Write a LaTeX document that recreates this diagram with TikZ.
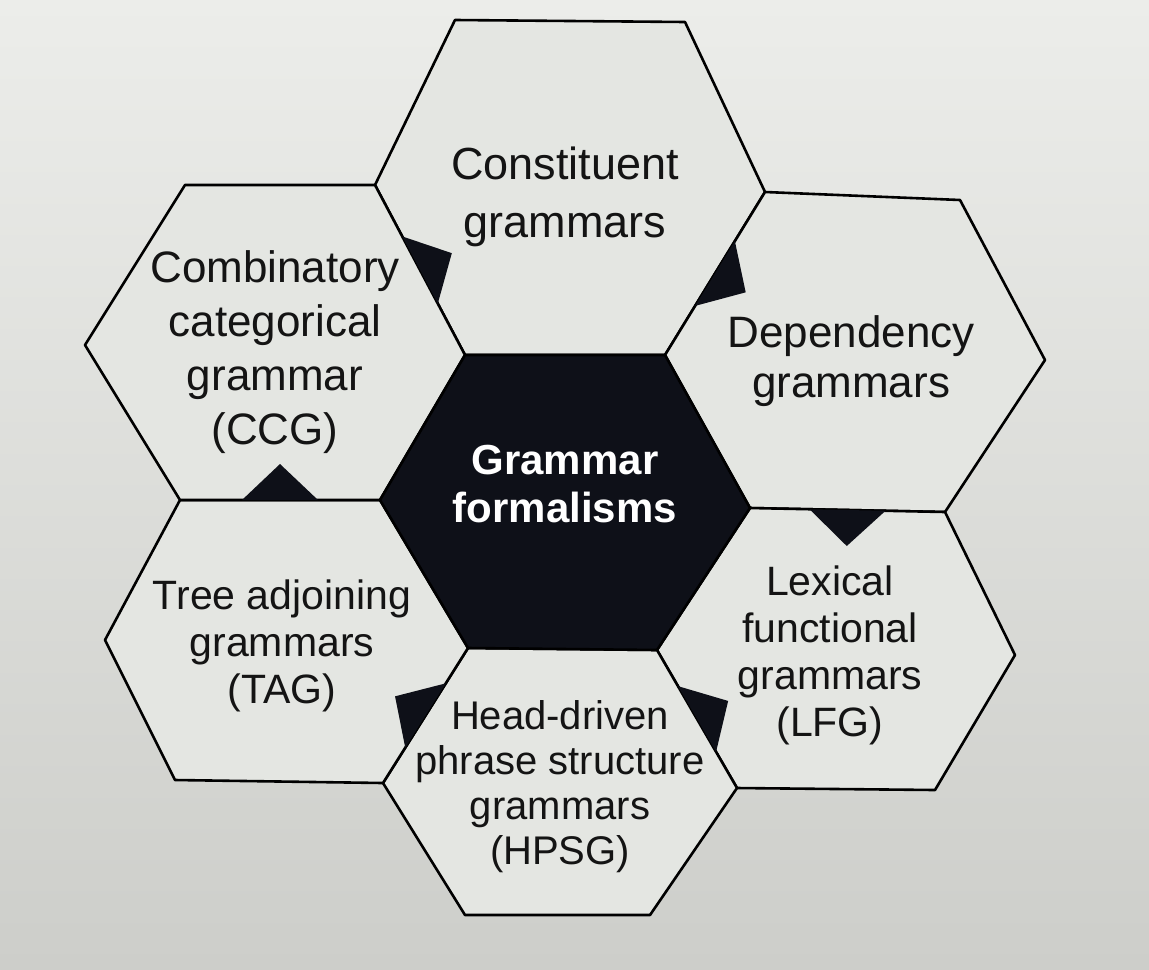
\documentclass[tikz,border=0pt]{standalone}
\usepackage{fontspec}
\setmainfont{Liberation Sans}
\usepackage{xcolor}
\definecolor{screentop}{HTML}{ECEDEA}
\definecolor{screenlow}{HTML}{CDCECA}
\definecolor{cellfill}{HTML}{E4E6E2}
\definecolor{hubfill}{HTML}{0E1018}
\usepackage{tikz}
\usetikzlibrary{calc,backgrounds}
\tikzset{
  cell/.style    = {draw=black, line width=1.3pt, fill=cellfill, line join=round},
  hub/.style     = {draw=black, line width=1.3pt, fill=hubfill, line join=round},
  celltext/.style= {align=center, text=black!92, font=\fontsize{20.5}{23.5}\selectfont},
  hubtext/.style = {align=center, text=white, font=\fontsize{21}{24}\selectfont\bfseries},
  tab/.style     = {fill=hubfill}
}

\begin{document}
\begin{tikzpicture}[x=0.5pt, y=-0.5pt]
  % screen
  \useasboundingbox (0,0) rectangle (1149,969);
  \shade[top color=screentop, bottom color=screenlow] (0,0) rectangle (1149,969);

  % honeycomb vertices
  \coordinate (cl)  at (380,500);
  \coordinate (ctl) at (465,355);
  \coordinate (ctr) at (665,355);
  \coordinate (cr)  at (750,508);
  \coordinate (cbr) at (657,650);
  \coordinate (cbl) at (468,648);
  \coordinate (ktl) at (455,20);
  \coordinate (ktr) at (685,22);
  \coordinate (kcl) at (375,185);
  \coordinate (kcr) at (765,192);
  \coordinate (dtr) at (960,200);
  \coordinate (dr)  at (1045,360);
  \coordinate (dbr) at (945,512);
  \coordinate (lr)  at (1015,655);
  \coordinate (lbr) at (935,790);
  \coordinate (lbl) at (737,788);
  \coordinate (hbr) at (650,915);
  \coordinate (hbl) at (465,915);
  \coordinate (hl)  at (383,783);
  \coordinate (tbl) at (175,780);
  \coordinate (tl)  at (105,640);
  \coordinate (ttl) at (180,500);
  \coordinate (gl)  at (85,345);
  \coordinate (gtl) at (185,185);

  % cells
  \draw[cell] (kcl) -- (ktl) -- (ktr) -- (kcr) -- (ctr) -- (ctl) -- cycle;
  \draw[cell] (ctr) -- (kcr) -- (dtr) -- (dr) -- (dbr) -- (cr) -- cycle;
  \draw[cell] (cbr) -- (cr) -- (dbr) -- (lr) -- (lbr) -- (lbl) -- cycle;
  \draw[cell] (hl) -- (cbl) -- (cbr) -- (lbl) -- (hbr) -- (hbl) -- cycle;
  \draw[cell] (tl) -- (ttl) -- (cl) -- (cbl) -- (hl) -- (tbl) -- cycle;
  \draw[cell] (gl) -- (gtl) -- (kcl) -- (ctl) -- (cl) -- (ttl) -- cycle;
  \draw[hub]  (cl) -- (ctl) -- (ctr) -- (cr) -- (cbr) -- (cbl) -- cycle;

  % tabs on the shared edges
  \foreach \a/\b/\s in {kcl/ctl/90, ctr/kcr/-90, cr/dbr/-90,
                        cbr/lbl/90, cbl/hl/-90, ttl/cl/90}
    \fill[tab] ($(\a)!0.5!(\b)!19pt!(\a)$) -- ($(\a)!0.5!(\b)!18pt!\s:(\b)$)
               -- ($(\a)!0.5!(\b)!19pt!(\b)$) -- cycle;

  % labels
  \node[hubtext] (gf) at (565,484) {Grammar\\formalisms};
  \node[celltext, font=\fontsize{22.5}{29}\selectfont] (cg) at (565,197) {Constituent\\grammars};
  \node[celltext, font=\fontsize{22}{25}\selectfont] (dg) at (851,361) {Dependency\\grammars};
  \node[celltext] (lfg) at (830,655) {Lexical\\functional\\grammars\\(LFG)};
  \node[celltext, font=\fontsize{20}{22.5}\selectfont] (hpsg) at (560,787) {Head-driven\\phrase structure\\grammars\\(HPSG)};
  \node[celltext] (tag) at (282,646) {Tree adjoining\\grammars\\(TAG)};
  \node[celltext, font=\fontsize{22}{27}\selectfont] (ccg) at (275,352) {Combinatory\\categorical\\grammar\\(CCG)};
\end{tikzpicture}
\end{document}
